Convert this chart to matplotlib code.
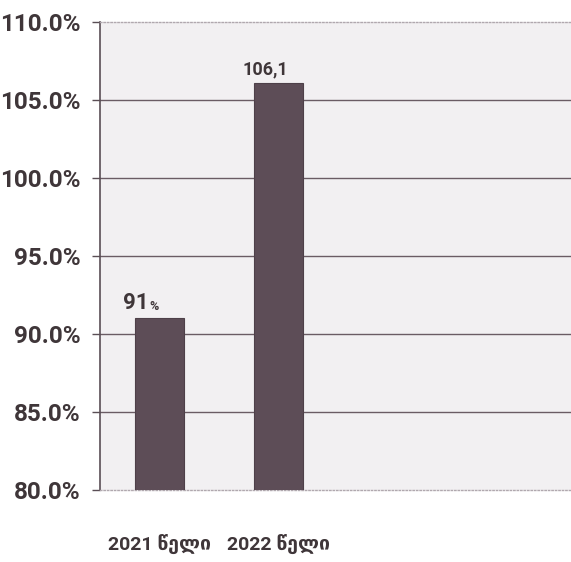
import numpy as np
import matplotlib
matplotlib.use("Agg")
import matplotlib.pyplot as plt
from matplotlib.ticker import FuncFormatter

# Data
categories = ["2021 წელი", "2022 წელი"]
values = [91.0, 106.1]
value_labels = ["91", "106,1"]
label_suffix = ["%", ""]
label_sizes = [16, 13]
yticks = [80, 85, 90, 95, 100, 105, 110]

narrow = ["Roboto", "DejaVu Sans"]
text_color = "#3f3639"
bar_color = "#5d4d57"
grid_color = "#6a5c64"

fig = plt.figure(figsize=(5.71, 5.62), dpi=100)
ax = fig.add_axes([100 / 571, 72 / 562, 1 - 100 / 571, 468 / 562])
ax.set_facecolor("#f2f0f2")

x = np.arange(len(categories))
bars = ax.bar(x, values, width=0.41, color=bar_color, edgecolor="#4e4049",
              linewidth=0.8, zorder=3)

ax.set_ylim(80, 110)
ax.set_xlim(-0.5, 3.46)
ax.set_yticks(yticks)
ax.yaxis.set_major_formatter(FuncFormatter(lambda v, p: f"{v:.1f}%"))

# grid lines
for t in yticks[1:-1]:
    ax.axhline(t, color=grid_color, linewidth=1.0, zorder=1)

for side in ["top", "bottom"]:
    ax.spines[side].set_color("#b0a8ae")
    ax.spines[side].set_linestyle((0, (1, 1.5)))
    ax.spines[side].set_linewidth(1.0)
ax.spines["right"].set_visible(False)
ax.spines["left"].set_color("#5a4e55")
ax.spines["left"].set_linewidth(1.2)

ax.tick_params(axis="y", length=6, width=1.0, color="#5a4e55", pad=8)
ax.tick_params(axis="x", length=0, pad=32)
for lab in ax.get_yticklabels():
    lab.set_fontfamily(narrow)
    lab.set_fontweight("bold")
    lab.set_fontsize(17.5)
    lab.set_color(text_color)

ax.set_xticks(x)
ax.set_xticklabels(categories, fontfamily=narrow,
                   fontweight="bold", fontsize=14, color=text_color)

# value labels
for xi, v, lab, suf, fs in zip(x, values, value_labels, label_suffix, label_sizes):
    left = xi - 0.205
    ax.annotate(lab, xy=(left, v), xytext=(-8.5, 3), textcoords="offset points",
                ha="left", va="bottom", fontsize=fs, fontweight="bold",
                fontfamily=narrow, color=text_color, zorder=4)
    if suf:
        ax.annotate(suf, xy=(left, v), xytext=(10.5, 4), textcoords="offset points",
                    ha="left", va="bottom", fontsize=9, fontweight="bold",
                    fontfamily=narrow, color=text_color, zorder=4)

fig.savefig("out.png", dpi=100, facecolor="white")
plt.close(fig)
